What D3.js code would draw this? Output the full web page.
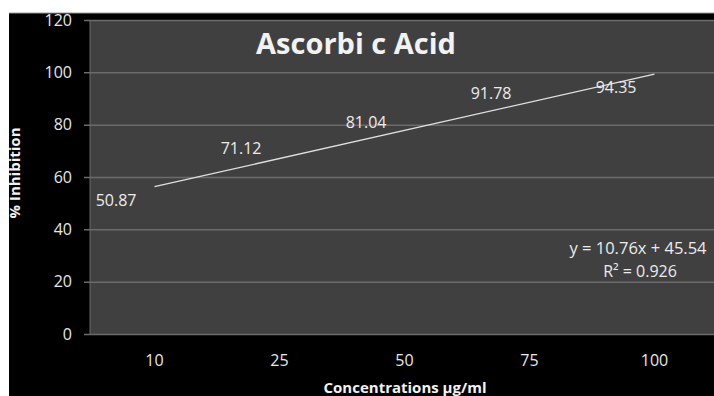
<!DOCTYPE html>
<html>
<head>
<meta charset="utf-8">
<script src="https://cdn.jsdelivr.net/npm/d3@7"></script>
<style>
  body { margin: 0; background: #fff; }
  svg text { font-family: "Open Sans", Lato, sans-serif; }
</style>
</head>
<body>
<div id="chart"></div>
<script>
// data
const concentrations = ["10", "25", "50", "75", "100"];
const inhibition = [50.87, 71.12, 81.04, 91.78, 94.35];
const yTicks = [0, 20, 40, 60, 80, 100, 120];
// trendline y = 10.76x + 45.54 (x = category index 1..5)
const trendSlope = 10.76;
const trendIntercept = 45.54;
const rSquared = "0.926";

const W = 714, H = 396;
const margin = { top: 20, right: -3, bottom: 62, left: 92 };
const width = W - margin.left - margin.right;
const height = H - margin.top - margin.bottom;

const root = d3.select("#chart").append("svg")
    .attr("width", W)
    .attr("height", H);

// black frame behind the chart
root.append("rect")
    .attr("x", 9).attr("y", 13)
    .attr("width", W - 9).attr("height", H - 13)
    .attr("fill", "#000");
root.append("line")
    .attr("x1", 9).attr("x2", W).attr("y1", 13).attr("y2", 13)
    .attr("stroke", "#9a9a9a");

const svg = root.append("g")
    .attr("transform", `translate(${margin.left},${margin.top})`);

const x = d3.scaleBand()
    .domain(concentrations)
    .range([0, width]);

const y = d3.scaleLinear()
    .domain([0, 120])
    .range([height, 0]);

// plot area
svg.append("rect")
    .attr("x", -2).attr("y", 0)
    .attr("width", width + 2).attr("height", height)
    .attr("fill", "#404040");

// gridlines + y axis
const yAxis = svg.append("g")
    .call(d3.axisLeft(y).tickValues(yTicks).tickSize(-width - 8).tickPadding(12))
    .attr("transform", "translate(-8,0)");
yAxis.select(".domain").remove();
yAxis.selectAll("line").attr("stroke", "#6b6b6b").attr("stroke-width", 1.5);
yAxis.selectAll("text")
    .attr("fill", "#e6e6e6")
    .style("font-size", "16px");

// left edge of plot
svg.append("line")
    .attr("x1", -2).attr("x2", -2).attr("y1", 0).attr("y2", height)
    .attr("stroke", "#6b6b6b");

// x axis labels
const xAxis = svg.append("g")
    .attr("transform", `translate(0,${height})`)
    .call(d3.axisBottom(x).tickSize(0).tickPadding(21));
xAxis.select(".domain").remove();
xAxis.selectAll("text")
    .attr("fill", "#e6e6e6")
    .style("font-size", "16px");

// trendline
const xi = i => x(concentrations[i]) + x.bandwidth() / 2;
const trend = [0, concentrations.length - 1].map(i => ({ i, v: trendSlope * (i + 1) + trendIntercept }));
svg.append("path")
    .datum(trend)
    .attr("fill", "none")
    .attr("stroke", "#e0e0e0")
    .attr("stroke-width", 1.3)
    .attr("d", d3.line().x(d => xi(d.i)).y(d => y(d.v)));

// data labels (to the left of the points)
svg.selectAll(".label")
    .data(inhibition)
    .enter()
    .append("text")
    .attr("class", "label")
    .attr("x", (d, i) => xi(i) - 18)
    .attr("y", d => y(d))
    .attr("dy", "0.35em")
    .attr("text-anchor", "end")
    .attr("fill", "#ececec")
    .style("font-size", "16px")
    .text(d => d.toFixed(2));

// title
svg.append("text")
    .attr("x", 264)
    .attr("y", 34)
    .attr("text-anchor", "middle")
    .attr("fill", "#f2f2f2")
    .style("font-size", "29px")
    .style("font-weight", "bold")
    .text("Ascorbi c Acid");

// equation
svg.append("text")
    .attr("x", 546)
    .attr("y", 234)
    .attr("text-anchor", "middle")
    .attr("fill", "#ececec")
    .style("font-size", "16.5px")
    .text(`y = ${trendSlope}x + ${trendIntercept}`);
svg.append("text")
    .attr("x", 548)
    .attr("y", 257)
    .attr("text-anchor", "middle")
    .attr("fill", "#ececec")
    .style("font-size", "16px")
    .text(`R² = ${rSquared}`);

// axis titles
svg.append("text")
    .attr("x", 313)
    .attr("y", height + 59)
    .attr("text-anchor", "middle")
    .attr("fill", "#f2f2f2")
    .style("font-size", "15px")
    .style("font-weight", "bold")
    .text("Concentrations µg/ml");

svg.append("text")
    .attr("text-anchor", "middle")
    .attr("transform", `translate(${-margin.left + 20}, 153) rotate(-90)`)
    .attr("fill", "#f2f2f2")
    .style("font-size", "15px")
    .style("font-weight", "bold")
    .text("% Inhibition");
</script>
</body>
</html>
